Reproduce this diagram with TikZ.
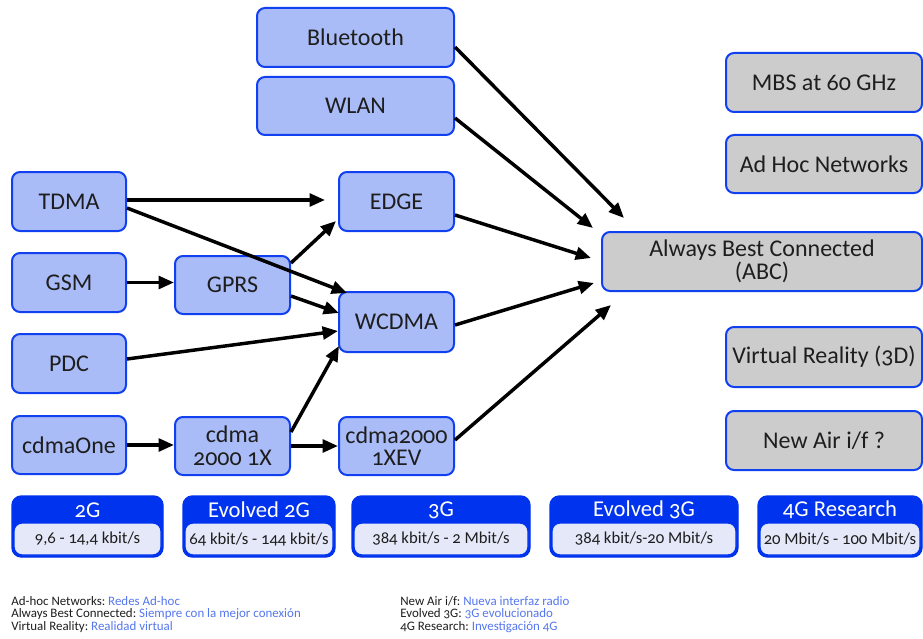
\documentclass[tikz,border=0pt]{standalone}
\usepackage{fontspec}
\setmainfont[Numbers=OldStyle]{Carlito}
\usetikzlibrary{arrows.meta,calc}
\frenchspacing
\definecolor{nodefill}{HTML}{AABCF7}
\definecolor{nodeline}{HTML}{1040F0}
\definecolor{grayfill}{HTML}{CCCCCC}
\definecolor{barblue}{HTML}{0033EE}
\definecolor{barinner}{HTML}{E4E8F8}
\definecolor{legblue}{HTML}{5577EE}
\definecolor{txt}{HTML}{1E1E1E}
\tikzset{
  sz/.style 2 args={minimum width=#1*0.75pt, minimum height=#2*0.75pt},
  netbox/.style={draw=nodeline, line width=1.5pt, fill=nodefill, rounded corners=6pt,
     inner sep=0pt, align=center, text=txt, font=\fontsize{18}{17}\selectfont},
  futbox/.style={netbox, fill=grayfill},
  barouter/.style={fill=barblue, draw=barblue, line width=1pt, rounded corners=7pt, inner sep=0pt},
  barinnerbox/.style={fill=barinner, draw=barblue, line width=1pt, rounded corners=6pt, inner sep=0pt,
     font=\fontsize{12.5}{14}\selectfont, text=txt},
  bartitle/.style={text=white, font=\fontsize{17}{18}\selectfont, inner sep=0pt},
  arr/.style={line width=2.6pt, -{Triangle[length=11.5pt,width=9.5pt]}},
  leg/.style={anchor=west, inner sep=0pt, font=\fontsize{9.7}{10}\selectfont, text=txt},
}
\begin{document}
\begin{tikzpicture}[x=0.75pt, y=-0.75pt]
\useasboundingbox (0,0) rectangle (923,638);
\fill[white] (0,0) rectangle (923,638);

% network nodes
\node[netbox, sz={197}{59}] (bt) at (355.5,37.5) {Bluetooth};
\node[netbox, sz={197}{58}] (wlan) at (355.5,106) {WLAN};
\node[netbox, sz={114}{59}] (tdma) at (69,201.5) {TDMA};
\node[netbox, sz={114}{59}] (gsm) at (69,282.5) {GSM};
\node[netbox, sz={114}{59}] (pdc) at (69,363.5) {PDC};
\node[netbox, sz={114}{58}] (cone) at (69,445) {cdmaOne};
\node[netbox, sz={115}{58}] (gprs) at (232.5,285) {GPRS};
\node[netbox, sz={115}{58}] (c1x) at (232.5,446) {cdma\\2000 1X};
\node[netbox, sz={115}{59}] (edge) at (396.5,201.5) {EDGE};
\node[netbox, sz={115}{60}] (wcdma) at (396.5,322) {WCDMA};
\node[netbox, sz={115}{58}] (ev) at (396.5,446) {cdma2000\\1XEV};

% future nodes
\node[futbox, sz={196}{59}] (mbs) at (824,82.5) {MBS at 60 GHz};
\node[futbox, sz={196}{58}] (adhoc) at (824,164) {Ad Hoc Networks};
\node[futbox, sz={320}{59}] (abc) at (762,261.5) {Always Best Connected\\(ABC)};
\node[futbox, sz={196}{60}] (vr) at (824,357) {Virtual Reality (3D)};
\node[futbox, sz={196}{59}] (air) at (824,440.5) {New Air i/f ?};

% arrows into ABC
\draw[arr] ($(bt.east)+(0,9.5)$) -- ($(abc.west)+(23,-43.5)$);
\draw[arr] ($(wlan.east)+(0,12)$) -- ($(abc.west)+(-8,-33.5)$);
\draw[arr] ($(edge.east)+(0,13.5)$) -- ($(abc.west)+(-10,-3.5)$);
\draw[arr] ($(wcdma.east)+(0,3)$) -- ($(abc.west)+(-7,21.5)$);
\draw[arr] ($(ev.east)+(0,-6)$) -- ($(abc.west)+(10,43.5)$);

% left arrows
\draw[arr] ($(tdma.east)+(0,-1.5)$) -- ($(edge.west)+(-13,-1.5)$);
\draw[arr] ($(tdma.east)+(0,6.5)$) -- ($(wcdma.north west)+(9,2)$);
\draw[arr] (gsm.east) -- (gsm.east -| gprs.west);
\draw[arr] ($(gprs.east)+(0,-22)$) -- ($(edge.west)+(-2,19.5)$);
\draw[arr] ($(gprs.east)+(0,11)$) -- ($(wcdma.west)+(1,-9)$);
\draw[arr] ($(pdc.east)+(0,-4.5)$) -- ($(wcdma.west)+(0,9)$);
\draw[arr] ($(c1x.east)+(0,-14)$) -- ($(wcdma.south west)+(1,-7)$);
\draw[arr] (cone.east) -- (cone.east -| c1x.west);
\draw[arr] (c1x.east) -- (ev.west);

% generation bars
\node[barouter, sz={151}{61}] (b1) at (87.5,526.5) {};
\node[barinnerbox, sz={147}{32}] (r1) at (87.5,539) {9,6 - 14,4 kbit/s};
\node[bartitle] (t1) at (87.5,510) {2G};

\node[barouter, sz={152}{61}] (b2) at (259,526.5) {};
\node[barinnerbox, sz={148}{32}] (r2) at (259,539) {64 kbit/s - 144 kbit/s};
\node[bartitle] (t2) at (259,510) {Evolved 2G};

\node[barouter, sz={178}{61}] (b3) at (441,526.5) {};
\node[barinnerbox, sz={174}{32}] (r3) at (441,539) {384 kbit/s - 2 Mbit/s};
\node[bartitle] (t3) at (441,510) {3G};

\node[barouter, sz={188}{61}] (b4) at (644,526.5) {};
\node[barinnerbox, sz={184}{32}] (r4) at (644,539) {384 kbit/s-20 Mbit/s};
\node[bartitle] (t4) at (644,510) {Evolved 3G};

\node[barouter, sz={164}{61}] (b5) at (840,526.5) {};
\node[barinnerbox, sz={160}{32}] (r5) at (840,539) {20 Mbit/s - 100 Mbit/s};
\node[bartitle] (t5) at (840,510) {4G Research};

% legend
\node[leg] (l1) at (11,601) {Ad-hoc Networks: \textcolor{legblue}{Redes Ad-hoc}};
\node[leg] (l2) at (11,614) {Always Best Connected: \textcolor{legblue}{Siempre con la mejor conexión}};
\node[leg] (l3) at (11,627) {Virtual Reality: \textcolor{legblue}{Realidad virtual}};
\node[leg] (l4) at (400,601) {New Air i/f: \textcolor{legblue}{Nueva interfaz radio}};
\node[leg] (l5) at (400,614) {Evolved 3G: \textcolor{legblue}{3G evolucionado}};
\node[leg] (l6) at (400,627) {4G Research: \textcolor{legblue}{Investigación 4G}};
\end{tikzpicture}
\end{document}
